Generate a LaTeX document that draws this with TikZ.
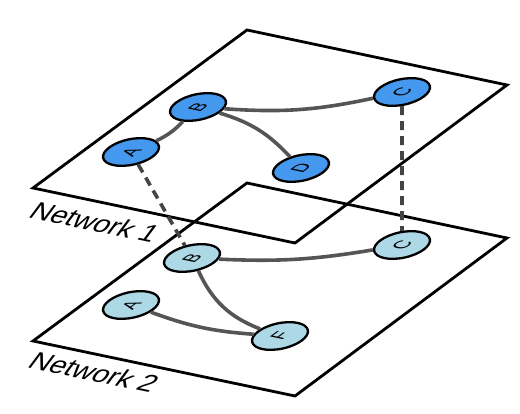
\documentclass[tikz,border=0pt]{standalone}
\usepackage{fontspec}
\newfontfamily\labfont{Liberation Sans}
\usetikzlibrary{shapes.geometric}
\definecolor{upblue}{HTML}{4499EE}
\definecolor{lowblue}{HTML}{ADD8E6}
\definecolor{edgegray}{HTML}{555555}
\definecolor{dashgray}{HTML}{444444}
\begin{document}
\begin{tikzpicture}[x=1pt,y=1pt,
  plane/.style={draw=black,line width=2.8pt,line join=miter},
  netnode/.style={ellipse,draw=black,line width=2.3pt,minimum width=57pt,minimum height=25.6pt,inner sep=0pt,rotate=12},
  upnode/.style={netnode,fill=upblue},
  lownode/.style={netnode,fill=lowblue},
  link/.style={draw=edgegray,line width=3.6pt},
  interlink/.style={draw=dashgray,line width=3.6pt,dash pattern=on 9pt off 6pt},
  lettr/.style={inner sep=0pt,transform shape,cm={0.805,0.594,-0.981,0.206,(0,0)},font=\labfont\fontsize{19}{19}\selectfont},
  netlabel/.style={inner sep=0pt,anchor=base west,transform shape,cm={0.981,-0.206,0.6,0.8,(0,0)},font=\labfont\fontsize{28}{28}\selectfont}]
\useasboundingbox (0,0) rectangle (520,414);
% planes
\coordinate (p1t) at (247,384);
\coordinate (p1r) at (507,329);
\coordinate (p1b) at (295,171);
\coordinate (p1l) at (33,226);
\coordinate (p2t) at (247,231);
\coordinate (p2r) at (507,176);
\coordinate (p2b) at (295,18);
\coordinate (p2l) at (33,73);
\draw[plane] (p1l) -- (p1t) -- (p1r) -- (p1b) -- cycle;
\draw[plane] (p2l) -- (p2t) -- (p2r) -- (p2b) -- cycle;
% nodes
\node[upnode] (uA) at (131,262) {};
\node[upnode] (uB) at (198,307) {};
\node[upnode] (uC) at (402,322) {};
\node[upnode] (uD) at (301,246) {};
\node[lownode] (lB) at (192,156) {};
\node[lownode] (lC) at (402,169) {};
\node[lownode] (lA) at (131,109) {};
\node[lownode] (lF) at (280,78) {};
% links
\draw[link] (uA) to[bend right=10] (uB);
\draw[link] (uB) to[bend right=8] (uC);
\draw[link] (uB) to[bend left=15] (uD);
\draw[link] (lB) to[bend right=6] (lC);
\draw[link] (lB) to[bend right=22] (lF);
\draw[link] (lA) to[bend right=8] (lF);
\draw[interlink] (uC) -- (lC);
\draw[interlink] (uA) -- (lB);
% letters
\node[lettr] (uAl) at (uA.center) {A};
\node[lettr] (uBl) at (uB.center) {B};
\node[lettr] (uCl) at (uC.center) {C};
\node[lettr] (uDl) at (uD.center) {D};
\node[lettr] (lBl) at (lB.center) {B};
\node[lettr] (lCl) at (lC.center) {C};
\node[lettr] (lAl) at (lA.center) {A};
\node[lettr] (lFl) at (lF.center) {F};
% network labels
\node[netlabel] (n1) at (27,197) {Network 1};
\node[netlabel] (n2) at (26,47) {Network 2};
\end{tikzpicture}
\end{document}
